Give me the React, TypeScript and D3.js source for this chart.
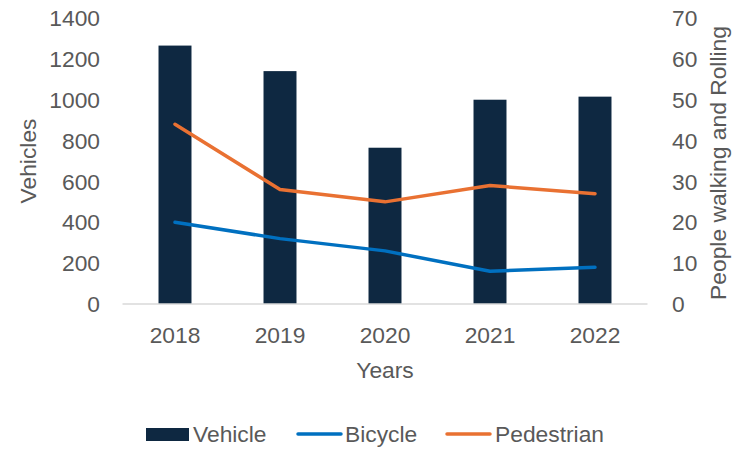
import React from "react";
import * as d3 from "d3";

const years = ["2018", "2019", "2020", "2021", "2022"];
const vehicles = [1265, 1140, 765, 1000, 1015];
const bicycle = [20, 16, 13, 8, 9];
const pedestrian = [44, 28, 25, 29, 27];
const leftTicks = [0, 200, 400, 600, 800, 1000, 1200, 1400];
const rightTicks = [0, 10, 20, 30, 40, 50, 60, 70];

const W = 751, H = 449;
const left = 122.5, right = 647.5, top = 18, bottom = 304;
const font = "'Liberation Sans', Arial, sans-serif";
const txt = "#595959";
const fs = 22.8;

export default function App() {
  const x = d3.scaleBand().domain(years).range([left, right]).paddingInner(0.686).paddingOuter(0.343);
  const yL = d3.scaleLinear().domain([0, 1400]).range([bottom, top]);
  const yR = d3.scaleLinear().domain([0, 70]).range([bottom, top]);
  const cx = (d: string) => (x(d) as number) + x.bandwidth() / 2;
  const line = (vals: number[]) =>
    d3.line<number>().x((_, i) => cx(years[i])).y((v) => yR(v))(vals) as string;

  return (
    <svg width={W} height={H} style={{ position: "absolute", left: 0, top: 0 }} fontFamily={font}>
      <rect width={W} height={H} fill="#fff" />
      {years.map((y, i) => (
        <rect key={y} x={x(y)} y={yL(vehicles[i])} width={x.bandwidth()} height={bottom - yL(vehicles[i])} fill="#0E2841" />
      ))}
      <line x1={left} x2={right} y1={bottom} y2={bottom} stroke="#D9D9D9" strokeWidth={1.5} />
      <path d={line(bicycle)} fill="none" stroke="#0070C0" strokeWidth={3.5} strokeLinecap="round" strokeLinejoin="round" />
      <path d={line(pedestrian)} fill="none" stroke="#E97132" strokeWidth={3.5} strokeLinecap="round" strokeLinejoin="round" />
      {leftTicks.map((t) => (
        <text key={t} x={100} y={yL(t)} dy="0.36em" textAnchor="end" fontSize={fs} fill={txt}>{t}</text>
      ))}
      {rightTicks.map((t) => (
        <text key={t} x={672} y={yR(t)} dy="0.36em" textAnchor="start" fontSize={fs} fill={txt}>{t}</text>
      ))}
      {years.map((y) => (
        <text key={y} x={cx(y)} y={335} dy="0.36em" textAnchor="middle" fontSize={fs} fill={txt}>{y}</text>
      ))}
      <text x={385} y={370} dy="0.36em" textAnchor="middle" fontSize={fs} fill={txt}>Years</text>
      <text transform="translate(28,161) rotate(-90)" dy="0.36em" textAnchor="middle" fontSize={fs} fill={txt}>Vehicles</text>
      <text transform="translate(718,163) rotate(-90)" dy="0.36em" textAnchor="middle" fontSize={fs} fill={txt}>People walking and Rolling</text>
      <g fontSize={fs} fill={txt}>
        <rect x={146} y={428} width={43} height={13} fill="#0E2841" />
        <text x={193} y={434} dy="0.36em">Vehicle</text>
        <line x1={298} x2={341} y1={434} y2={434} stroke="#0070C0" strokeWidth={3.5} strokeLinecap="round" />
        <text x={345} y={434} dy="0.36em">Bicycle</text>
        <line x1={447} x2={490} y1={434} y2={434} stroke="#E97132" strokeWidth={3.5} strokeLinecap="round" />
        <text x={495} y={434} dy="0.36em">Pedestrian</text>
      </g>
    </svg>
  );
}
